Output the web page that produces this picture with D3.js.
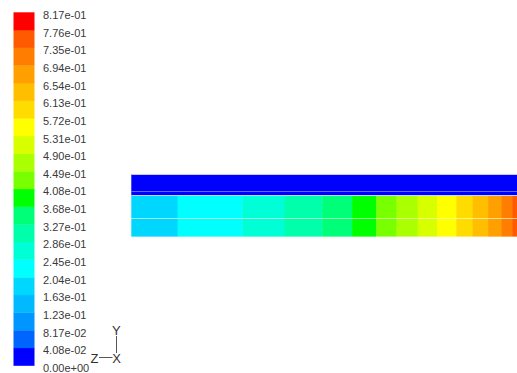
<!DOCTYPE html>
<html>
<head>
<meta charset="utf-8">
<script src="https://cdn.jsdelivr.net/npm/d3@7"></script>
<style>
  html, body { margin: 0; padding: 0; background: #fff; }
  svg { display: block; }
  text { font-family: "Liberation Sans", Arial, Helvetica, sans-serif; }
</style>
</head>
<body>
<svg id="chart" width="517" height="373"></svg>
<script>
// Contour levels shown in the colour bar (bottom to top)
const levels = [0, 0.040849, 0.081697, 0.12255, 0.16339, 0.20424, 0.24509, 0.28594,
  0.32679, 0.36764, 0.40849, 0.44933, 0.49018, 0.53103, 0.57188, 0.61273,
  0.65358, 0.69442, 0.73527, 0.77612, 0.81697];

// One colour per band, bottom (blue) to top (red)
const bandColors = [
  "#0000ff", "#0064ff", "#0096ff", "#00b9ff", "#00d7ff", "#00ffff",
  "#00ffd7", "#00ffaa", "#00ff78", "#00ff00", "#78ff00", "#aaff00",
  "#d7ff00", "#ffff00", "#ffdc00", "#ffbe00", "#ffa000", "#ff7d00",
  "#ff5a00", "#ff0000"
];

// Column edges along the channel (mm) and the cell value in each column
const columnEdges = [0, 48, 115, 159, 198, 229, 254, 275, 297, 317, 337, 354, 370, 384, 395, 400];
const columnValues = [0.185, 0.225, 0.265, 0.305, 0.35, 0.39, 0.43, 0.47, 0.51, 0.55,
  0.59, 0.635, 0.675, 0.715, 0.755];

// Zone boundaries across the channel (mm from the top wall)
const wallZone = { y0: 0, y1: 22.8, value: 0.01 };
const fluidRows = [[22.8, 46.1], [46.1, 65.3]];
const wallInnerLine = 18.0;

const svg = d3.select("#chart");
svg.append("rect").attr("width", 517).attr("height", 373).attr("fill", "#fff");

const color = d3.scaleThreshold()
  .domain(levels.slice(1, -1))
  .range(bandColors);

// ---- Colour bar ----
const legendY = d3.scaleLinear()
  .domain([levels[0], levels[levels.length - 1]])
  .range([365.5, 12.3]);

const bands = d3.range(levels.length - 1).map(i => ({ lo: levels[i], hi: levels[i + 1] }));
const legend = svg.append("g");
legend.selectAll("rect.band")
  .data(bands)
  .join("rect")
  .attr("class", "band")
  .attr("x", 13.5)
  .attr("width", 21)
  .attr("y", d => legendY(d.hi))
  .attr("height", d => legendY(d.lo) - legendY(d.hi) + 0.3)
  .attr("fill", d => color((d.lo + d.hi) / 2));

const fmt = v => v.toExponential(2).replace(/e([+-])(\d)$/, "e$10$2");
legend.selectAll("text.tick")
  .data(levels)
  .join("text")
  .attr("class", "tick")
  .attr("x", 43)
  .attr("y", d => legendY(d) + 6.6)
  .attr("font-size", 11)
  .attr("fill", "#3a3a3a")
  .text(fmt);

// ---- Channel contour ----
const x = d3.scaleLinear().domain([0, 400]).range([131.3, 517]);
const y = d3.scaleLinear().domain([0, 400]).range([174, 174 + 400 * (517 - 131.3) / 400]);

const plot = svg.append("g");
plot.append("rect")
  .attr("x", x(columnEdges[0]))
  .attr("y", y(wallZone.y0))
  .attr("width", x(columnEdges[columnEdges.length - 1]) - x(columnEdges[0]))
  .attr("height", y(wallZone.y1) - y(wallZone.y0))
  .attr("fill", color(wallZone.value));

const cells = [];
fluidRows.forEach(r => {
  columnValues.forEach((v, i) => cells.push({ x0: columnEdges[i], x1: columnEdges[i + 1], y0: r[0], y1: r[1], v }));
});
plot.selectAll("rect.cell")
  .data(cells)
  .join("rect")
  .attr("class", "cell")
  .attr("x", d => x(d.x0))
  .attr("y", d => y(d.y0))
  .attr("width", d => x(d.x1) - x(d.x0) + 0.4)
  .attr("height", d => y(d.y1) - y(d.y0))
  .attr("fill", d => color(d.v));

// Zone boundary lines
const x0 = x(columnEdges[0]), x1 = x(columnEdges[columnEdges.length - 1]);
const hline = (yy, stroke, op) => plot.append("line")
  .attr("x1", x0).attr("x2", x1)
  .attr("y1", yy).attr("y2", yy)
  .attr("stroke", stroke).attr("stroke-opacity", op).attr("stroke-width", 1);
hline(Math.round(y(wallZone.y0)) + 0.5, "#c8c8ff", 1);
hline(Math.round(y(wallInnerLine)) + 0.5, "#7070ff", 0.9);
hline(Math.round(y(wallZone.y1)) - 0.5, "#d8e8ff", 0.9);
hline(Math.round(y(fluidRows[1][0])) + 0.5, "#f0ffd0", 0.55);
hline(Math.round(y(fluidRows[1][1])) - 0.5, "#ffffff", 0.35);

// ---- Axis triad ----
const triad = svg.append("g").attr("fill", "#333").attr("font-size", 13);
triad.append("text").attr("x", 116.3).attr("y", 335).attr("text-anchor", "middle").text("Y");
triad.append("text").attr("x", 94.5).attr("y", 362.5).attr("text-anchor", "middle").text("Z");
triad.append("text").attr("x", 116.5).attr("y", 362.5).attr("text-anchor", "middle").text("X");
triad.append("line").attr("x1", 116.5).attr("x2", 116.5).attr("y1", 336).attr("y2", 353)
  .attr("stroke", "#444").attr("stroke-width", 0.9);
triad.append("line").attr("x1", 99).attr("x2", 112.5).attr("y1", 357.5).attr("y2", 357.5)
  .attr("stroke", "#444").attr("stroke-width", 0.9);
</script>
</body>
</html>
